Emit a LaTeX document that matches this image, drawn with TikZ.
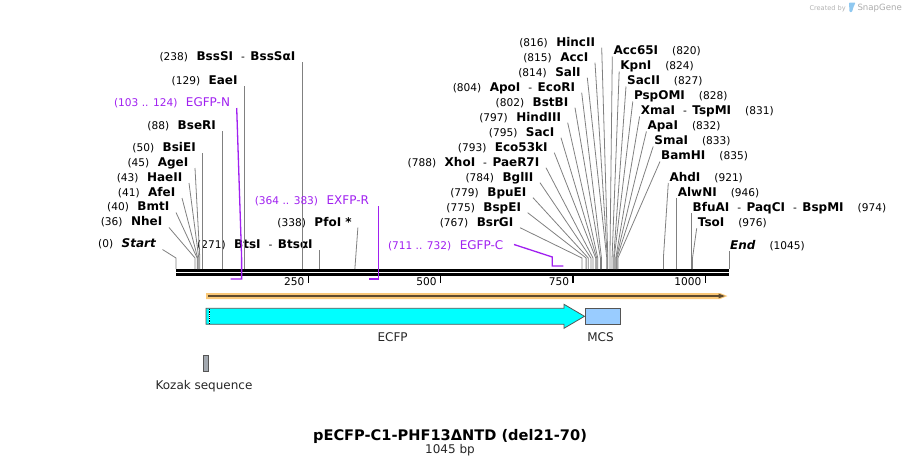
\documentclass[tikz,border=0pt]{standalone}
\usepackage{fontspec}
\setmainfont{DejaVu Sans}
\usetikzlibrary{arrows.meta}

\definecolor{cutgrey}{HTML}{808080}
\definecolor{primercol}{HTML}{A020F0}
\definecolor{bandorange}{HTML}{FAC878}
\definecolor{banddark}{HTML}{5E4A2E}
\definecolor{ecfpcyan}{HTML}{00FFFF}
\definecolor{featline}{HTML}{555555}
\definecolor{mcsblue}{HTML}{99CCFF}
\definecolor{kozakgrey}{HTML}{A3A9B0}
\definecolor{logoblue}{HTML}{8FC8F0}

\newcommand\enzname[1]{{\fontsize{12}{12}\selectfont\bfseries #1}}
\newcommand\enzdash{\hspace{8pt}-\hspace{5.5pt}}
\newcommand\numgap{\hspace{8.5pt}}

\begin{document}
\begin{tikzpicture}[x=1pt,y=-1pt,
    lbl/.style={inner xsep=6.5pt,inner ysep=1.5pt,text height=9pt,text depth=0pt,
        font=\fontsize{10.6}{12}\selectfont,anchor=south east},
    rlbl/.style={lbl,inner xsep=1pt,anchor=south west},
    plbl/.style={lbl,text=primercol},
    cut/.style={draw=cutgrey,line width=0.8pt},
    primer/.style={draw=primercol,line width=1.3pt},
    feat/.style={draw=featline,line width=0.8pt},
    featlbl/.style={font=\fontsize{12}{12}\selectfont,text=black!85,inner sep=0pt,anchor=base},
    ticklbl/.style={font=\fontsize{10.6}{12}\selectfont,inner sep=0pt,anchor=base east}]
    \useasboundingbox (0,0) rectangle (906,466);

    % map
    \draw[line width=2.6pt] (176,270.6) -- (729,270.6);
    \draw[line width=2.6pt] (176,274.6) -- (729,274.6);

    % ticks
    \coordinate (t250) at (176+0.5292*250,276);
    \coordinate (t500) at (176+0.5292*500,276);
    \coordinate (t750) at (176+0.5292*750,276);
    \coordinate (t1000) at (176+0.5292*1000,276);
    \draw[line width=1.3pt] (t250) -- ++(0,6.7);
    \draw[line width=1.3pt] (t500) -- ++(0,6.7);
    \draw[line width=1.3pt] (t750) -- ++(0,6.7);
    \draw[line width=1.3pt] (t1000) -- ++(0,6.7);
    \node[ticklbl] (n250) at ([xshift=-3.7pt,yshift=-9.3pt]t250) {250};
    \node[ticklbl] (n500) at ([xshift=-3.7pt,yshift=-9.3pt]t500) {500};
    \node[ticklbl] (n750) at ([xshift=-3.7pt,yshift=-9.3pt]t750) {750};
    \node[ticklbl] (n1000) at ([xshift=-3.7pt,yshift=-9.3pt]t1000) {1000};

    % cut sites
    \coordinate (k0) at (176,269);
    \coordinate (k36) at (176+0.5292*36,269);
    \coordinate (k40) at (176+0.5292*40,269);
    \coordinate (k41) at (176+0.5292*41,269);
    \coordinate (k43) at (176+0.5292*43,269);
    \coordinate (k45) at (176+0.5292*45,269);
    \coordinate (k50) at (176+0.5292*50,269);
    \coordinate (k88) at (176+0.5292*88,269);
    \coordinate (k129) at (176+0.5292*129,269);
    \coordinate (k238) at (176+0.5292*238,269);
    \coordinate (k271) at (176+0.5292*271,269);
    \coordinate (k338) at (176+0.5292*338,269);
    \coordinate (k767) at (176+0.5292*767,269);
    \coordinate (k775) at (176+0.5292*775,269);
    \coordinate (k779) at (176+0.5292*779,269);
    \coordinate (k784) at (176+0.5292*784,269);
    \coordinate (k788) at (176+0.5292*788,269);
    \coordinate (k793) at (176+0.5292*793,269);
    \coordinate (k795) at (176+0.5292*795,269);
    \coordinate (k797) at (176+0.5292*797,269);
    \coordinate (k802) at (176+0.5292*802,269);
    \coordinate (k804) at (176+0.5292*804,269);
    \coordinate (k814) at (176+0.5292*814,269);
    \coordinate (k815) at (176+0.5292*815,269);
    \coordinate (k816) at (176+0.5292*816,269);
    \coordinate (k820) at (176+0.5292*820,269);
    \coordinate (k824) at (176+0.5292*824,269);
    \coordinate (k827) at (176+0.5292*827,269);
    \coordinate (k828) at (176+0.5292*828,269);
    \coordinate (k831) at (176+0.5292*831,269);
    \coordinate (k832) at (176+0.5292*832,269);
    \coordinate (k833) at (176+0.5292*833,269);
    \coordinate (k835) at (176+0.5292*835,269);
    \coordinate (k921) at (176+0.5292*921,269);
    \coordinate (k946) at (176+0.5292*946,269);
    \coordinate (k974) at (176+0.5292*974,269);
    \coordinate (k976) at (176+0.5292*976,269);
    \coordinate (k1045) at (729,269);

    % enzyme labels, left part
    \node[lbl] (Start) at (162.5,249.5) {(0)\numgap\enzname{\itshape Start}};
    \node[lbl] (NheI) at (169,227.5) {(36)\numgap\enzname{NheI}};
    \node[lbl] (BmtI) at (176,212.5) {(40)\numgap\enzname{BmtI}};
    \node[lbl] (AfeI) at (182,198) {(41)\numgap\enzname{AfeI}};
    \node[lbl] (HaeII) at (189,183) {(43)\numgap\enzname{HaeII}};
    \node[lbl] (AgeI) at (195,168) {(45)\numgap\enzname{AgeI}};
    \node[lbl] (BsiEI) at (k50 |- 0,153.3) {(50)\numgap\enzname{BsiEI}};
    \node[lbl] (BseRI) at (k88 |- 0,131) {(88)\numgap\enzname{BseRI}};
    \node[lbl] (EaeI) at (k129 |- 0,86) {(129)\numgap\enzname{EaeI}};
    \node[lbl] (BssSI) at (k238 |- 0,62) {(238)\numgap\enzname{BssSI}\enzdash\enzname{BssSαI}};
    \node[lbl] (BtsI) at (k271 |- 0,250.3) {(271)\numgap\enzname{BtsI}\enzdash\enzname{BtsαI}};
    \node[lbl,inner xsep=3pt] (PfoI) at (k338 |- 0,227.7) {(338)\numgap\enzname{PfoI *}};

    \draw[cut] (Start.south east) -- ([yshift=11pt]k0) -- (k0);
    \draw[cut] (NheI.south east) -- ([yshift=11pt]k36) -- (k36);
    \draw[cut] (BmtI.south east) -- ([yshift=11pt]k40) -- (k40);
    \draw[cut] (AfeI.south east) -- ([yshift=11pt]k41) -- (k41);
    \draw[cut] (HaeII.south east) -- ([yshift=11pt]k43) -- (k43);
    \draw[cut] (AgeI.south east) -- ([yshift=11pt]k45) -- (k45);
    \draw[cut] (BsiEI.south east) -- (k50);
    \draw[cut] (BseRI.south east) -- (k88);
    \draw[cut] (EaeI.south east) -- (k129);
    \draw[cut] (BssSI.south east) -- (k238);
    \draw[cut] (BtsI.south east) -- (k271);
    \draw[cut] ([xshift=3pt]PfoI.south east) -- (k338);

    % enzyme labels, MCS
    \node[lbl] (BsrGI) at (520,227.7) {(767)\numgap\enzname{BsrGI}};
    \node[lbl] (BspEI) at (527.7,212.7) {(775)\numgap\enzname{BspEI}};
    \node[lbl] (BpuEI) at (533,197.7) {(779)\numgap\enzname{BpuEI}};
    \node[lbl] (BglII) at (540,182.7) {(784)\numgap\enzname{BglII}};
    \node[lbl] (XhoI) at (546,167.7) {(788)\numgap\enzname{XhoI}\enzdash\enzname{PaeR7I}};
    \node[lbl] (Eco53kI) at (554.3,152.7) {(793)\numgap\enzname{Eco53kI}};
    \node[lbl] (SacI) at (561,137.7) {(795)\numgap\enzname{SacI}};
    \node[lbl] (HindIII) at (567.7,122.7) {(797)\numgap\enzname{HindIII}};
    \node[lbl] (BstBI) at (575,107.7) {(802)\numgap\enzname{BstBI}};
    \node[lbl] (ApoI) at (581.7,92.7) {(804)\numgap\enzname{ApoI}\enzdash\enzname{EcoRI}};
    \node[lbl] (SalI) at (587.3,77.7) {(814)\numgap\enzname{SalI}};
    \node[lbl] (AccI) at (595,62.7) {(815)\numgap\enzname{AccI}};
    \node[lbl] (HincII) at (601.7,47.7) {(816)\numgap\enzname{HincII}};

    \draw[cut] (BsrGI.south east) -- ([yshift=11pt]k767) -- (k767);
    \draw[cut] (BspEI.south east) -- ([yshift=11pt]k775) -- (k775);
    \draw[cut] (BpuEI.south east) -- ([yshift=11pt]k779) -- (k779);
    \draw[cut] (BglII.south east) -- ([yshift=11pt]k784) -- (k784);
    \draw[cut] (XhoI.south east) -- ([yshift=11pt]k788) -- (k788);
    \draw[cut] (Eco53kI.south east) -- ([yshift=11pt]k793) -- (k793);
    \draw[cut] (SacI.south east) -- ([yshift=11pt]k795) -- (k795);
    \draw[cut] (HindIII.south east) -- ([yshift=11pt]k797) -- (k797);
    \draw[cut] (BstBI.south east) -- ([yshift=11pt]k802) -- (k802);
    \draw[cut] (ApoI.south east) -- ([yshift=11pt]k804) -- (k804);
    \draw[cut] (SalI.south east) -- ([yshift=11pt]k814) -- (k814);
    \draw[cut] (AccI.south east) -- ([yshift=11pt]k815) -- (k815);
    \draw[cut] (HincII.south east) -- ([yshift=11pt]k816) -- (k816);

    % enzyme labels, right part
    \node[rlbl] (Acc65I) at (612.3,56.5) {\enzname{Acc65I}\hspace{14pt}(820)};
    \node[rlbl] (KpnI) at (619.2,71.5) {\enzname{KpnI}\hspace{14pt}(824)};
    \node[rlbl] (SacII) at (626,86.5) {\enzname{SacII}\hspace{14pt}(827)};
    \node[rlbl] (PspOMI) at (632.8,101.5) {\enzname{PspOMI}\hspace{14pt}(828)};
    \node[rlbl] (XmaI) at (639.6,116.5) {\enzname{XmaI}\enzdash\enzname{TspMI}\hspace{14pt}(831)};
    \node[rlbl] (ApaI) at (646.4,131.5) {\enzname{ApaI}\hspace{14pt}(832)};
    \node[rlbl] (SmaI) at (653.2,146.5) {\enzname{SmaI}\hspace{14pt}(833)};
    \node[rlbl] (BamHI) at (660,161.5) {\enzname{BamHI}\hspace{14pt}(835)};
    \node[rlbl] (AhdI) at (668.3,183) {\enzname{AhdI}\hspace{14pt}(921)};
    \node[rlbl] (AlwNI) at (k946 |- 0,198.3) {\enzname{AlwNI}\hspace{14pt}(946)};
    \node[rlbl] (BfuAI) at (k974 |- 0,213.3) {\enzname{BfuAI}\enzdash\enzname{PaqCI}\enzdash\enzname{BspMI}\hspace{14pt}(974)};
    \node[rlbl] (TsoI) at (696.7,228.3) {\enzname{TsoI}\hspace{14pt}(976)};
    \node[rlbl] (End) at (k1045 |- 0,251) {\enzname{\itshape End}\hspace{14pt}(1045)};

    \draw[cut] (Acc65I.south west) -- ([yshift=11pt]k820) -- (k820);
    \draw[cut] (KpnI.south west) -- ([yshift=11pt]k824) -- (k824);
    \draw[cut] (SacII.south west) -- ([yshift=11pt]k827) -- (k827);
    \draw[cut] (PspOMI.south west) -- ([yshift=11pt]k828) -- (k828);
    \draw[cut] (XmaI.south west) -- ([yshift=11pt]k831) -- (k831);
    \draw[cut] (ApaI.south west) -- ([yshift=11pt]k832) -- (k832);
    \draw[cut] (SmaI.south west) -- ([yshift=11pt]k833) -- (k833);
    \draw[cut] (BamHI.south west) -- ([yshift=11pt]k835) -- (k835);
    \draw[cut] (AhdI.south west) -- ([yshift=11pt]k921) -- (k921);
    \draw[cut] (AlwNI.south west) -- (k946);
    \draw[cut] (BfuAI.south west) -- (k974);
    \draw[cut] (TsoI.south west) -- ([yshift=11pt]k976) -- (k976);
    \draw[cut] (End.south west) -- (k1045);

    % primers
    \coordinate (pN5) at (176+0.5292*103,279);
    \coordinate (pN3) at (176+0.5292*124,279);
    \coordinate (pR5) at (176+0.5292*383,279);
    \coordinate (pR3) at (176+0.5292*364,279);
    \coordinate (pC5) at (176+0.5292*711,266);
    \coordinate (pC3) at (176+0.5292*732,266);
    \node[plbl] (EGFPN) at (236.7,108) {(103 .. 124)\numgap{\fontsize{12}{12}\selectfont EGFP-N}};
    \node[plbl,inner xsep=9.5pt] (EXFPR) at (pR5 |- 0,206) {(364 .. 383)\numgap{\fontsize{12}{12}\selectfont EXFP-R}};
    \node[plbl,anchor=east,inner xsep=10.5pt] (EGFPC) at (514,244.5) {(711 .. 732)\numgap{\fontsize{12}{12}\selectfont EGFP-C}};
    \draw[primer] (EGFPN.south east) -- ([yshift=21pt]pN3) -- (pN3) -- (pN5);
    \draw[primer] (EXFPR.south east) -- (pR5) -- (pR3);
    \draw[primer] (EGFPC.east) -- ([yshift=9pt]pC5) -- (pC5) -- (pC3);

    % features
    \fill[bandorange] (206,293) -- (720,293) -- (727.5,296) -- (720,299) -- (206,299) -- cycle;
    \draw[banddark,line width=1.5pt] (208,296) -- (720,296);
    \fill[banddark] (718.5,293.6) -- (724.8,296) -- (718.5,298.4) -- cycle;

    \draw[feat,fill=ecfpcyan] (206,308.3) -- (564,308.3) -- (564,304.3) -- (584.5,316.3)
        -- (564,328.3) -- (564,324.3) -- (206,324.3) -- cycle;
    \draw[white,line width=0.9pt] (209.3,308.8) -- (209.3,323.8);
    \draw[black,line width=0.9pt,dash pattern=on 0.9pt off 0.9pt] (209.3,308.8) -- (209.3,323.8);
    \draw[feat,fill=mcsblue] (585.7,308.3) rectangle (620.7,324.3);
    \draw[feat,fill=kozakgrey] (203.5,355.7) rectangle (208.5,371);

    \node[featlbl] (ECFP) at (392.6,341.7) {ECFP};
    \node[featlbl] (MCS) at (600.5,341.7) {MCS};
    \node[featlbl] (Kozak) at (204,389.3) {Kozak sequence};

    % title
    \node[font=\fontsize{14.6}{16}\selectfont\bfseries,inner sep=0pt,anchor=base] (title) at (450,440) {pECFP-C1-PHF13ΔNTD (del21-70)};
    \node[font=\fontsize{12}{12}\selectfont,text=black!85,inner sep=0pt,anchor=base] (length) at (450,453.5) {1045 bp};

    % watermark
    \node[font=\fontsize{6.6}{7}\selectfont,text=black!30,inner sep=0pt,anchor=base west] (created) at (809.3,10.7) {Created by};
    \fill[logoblue,rounded corners=0.8pt] (849,2.5) -- (855.5,2.5) -- (853.5,7) -- (852,12) -- (849.5,12) -- cycle;
    \node[font=\fontsize{8.6}{9}\selectfont,text=black!33,inner sep=0pt,anchor=base west] (snapgene) at (857.3,10.7) {SnapGene};
\end{tikzpicture}
\end{document}
